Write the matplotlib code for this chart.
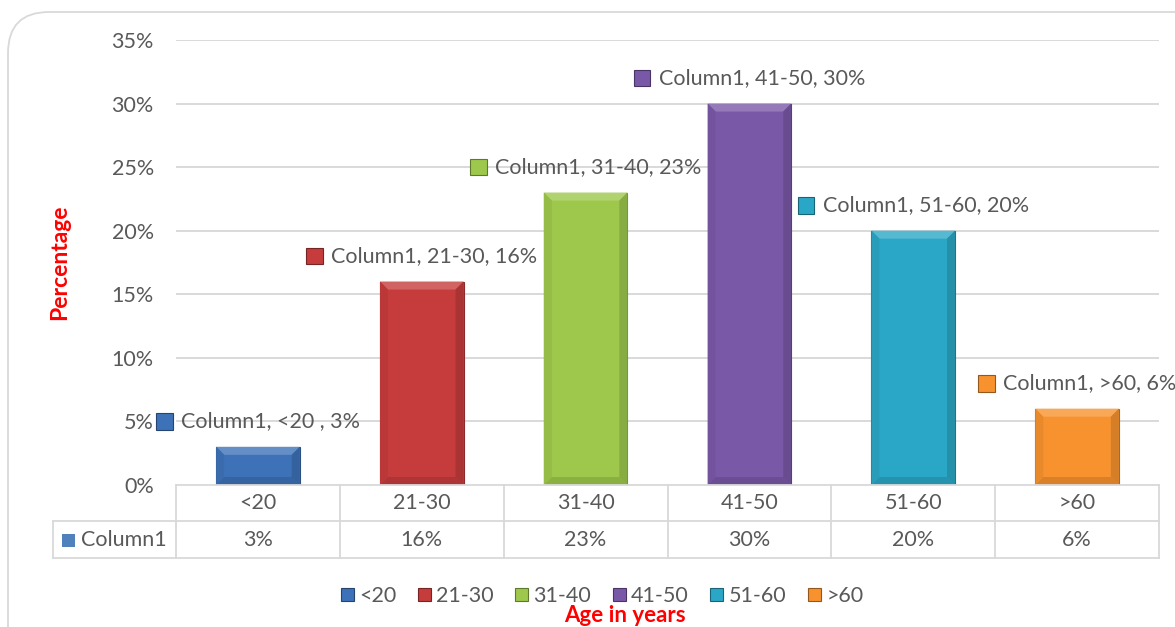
import matplotlib.pyplot as plt
import matplotlib.colors as mcolors
from matplotlib.patches import Rectangle, Polygon, FancyBboxPatch, Patch
from matplotlib.lines import Line2D
from matplotlib.offsetbox import AnnotationBbox, HPacker, TextArea, DrawingArea
from matplotlib.transforms import blended_transform_factory

plt.rcParams['font.family'] = ['Lato', 'DejaVu Sans']

# age groups and share of respondents (%)
age_groups = ['<20', '21-30', '31-40', '41-50', '51-60', '>60']
percent = [3, 16, 23, 30, 20, 6]
series_name = 'Column1'
label_text = ['Column1, <20 , 3%', 'Column1, 21-30, 16%', 'Column1, 31-40, 23%',
              'Column1, 41-50, 30%', 'Column1, 51-60, 20%', 'Column1, >60, 6%']
bar_colors = ['#3d72b8', '#c63c3c', '#9dc84b', '#7a58a8', '#2aa7c6', '#f7922e']

W, H = 1175, 627
grey = '#595959'
line_grey = '#d9d9d9'
fs = 15.5

fig = plt.figure(figsize=(W / 100, H / 100), dpi=100)

# rounded chart frame
frame = FancyBboxPatch((8 / W, -0.2), 1.2, 1.2 - 12 / H,
                       boxstyle='round,pad=0,rounding_size=0.035',
                       transform=fig.transFigure, fc='white', ec='#d9d9d9', lw=1.3,
                       mutation_aspect=W / H, zorder=-10)
fig.patches.append(frame)

x0, x1 = 176, 1159
y_top, y_zero = 40, 485
ax = fig.add_axes([x0 / W, 1 - y_zero / H, (x1 - x0) / W, (y_zero - y_top) / H])
ax.set_xlim(-0.5, len(age_groups) - 0.5)
ax.set_ylim(0, 35)
ax.patch.set_alpha(0)
for s in ax.spines.values():
    s.set_visible(False)
ax.set_yticks(range(0, 36, 5))
ax.set_yticklabels([f'{t}%' for t in range(0, 36, 5)])
ax.tick_params(axis='y', length=0, pad=16, labelsize=fs, labelcolor=grey)
ax.set_xticks([])
for t in range(5, 36, 5):
    ax.axhline(t, color=line_grey, lw=1.4, zorder=0)


def shade(c, f):
    r, g, b = mcolors.to_rgb(c)
    if f >= 0:
        return (r + (1 - r) * f, g + (1 - g) * f, b + (1 - b) * f)
    return (r * (1 + f), g * (1 + f), b * (1 + f))


bar_w = 0.51
px_x = (x1 - x0) / len(age_groups)      # pixels per category
px_y = (y_zero - y_top) / 35             # pixels per percent
bx, by = 8 / px_x, 8 / px_y
for i, (v, c) in enumerate(zip(percent, bar_colors)):
    l, r = i - bar_w / 2, i + bar_w / 2
    ax.add_patch(Rectangle((l, 0), bar_w, v, fc=c, ec=shade(c, -0.3), lw=0.8, zorder=2))
    t = min(by, v / 2)
    # soft bevel facets
    ax.add_patch(Polygon([(l, v), (r, v), (r - bx, v - t), (l + bx, v - t)],
                         closed=True, fc=shade(c, 0.2), ec='none', zorder=3))
    ax.add_patch(Polygon([(l, 0), (r, 0), (r - bx, t), (l + bx, t)],
                         closed=True, fc=shade(c, -0.12), ec='none', zorder=3))
    ax.add_patch(Polygon([(l, 0), (l, v), (l + bx, v - t), (l + bx, t)],
                         closed=True, fc=shade(c, -0.06), ec='none', zorder=3))
    ax.add_patch(Polygon([(r, 0), (r, v), (r - bx, v - t), (r - bx, t)],
                         closed=True, fc=shade(c, -0.14), ec='none', zorder=3))

    # data label with legend key
    da = DrawingArea(12, 12, 0, 0)
    da.add_artist(Rectangle((0, 0), 12, 12, fc=c, ec=shade(c, -0.4), lw=0.8))
    ta = TextArea(label_text[i], textprops=dict(color=grey, fontsize=fs))
    box = HPacker(children=[da, ta], align='center', pad=0, sep=6)
    ab = AnnotationBbox(box, (i, v + 2), frameon=False, box_alignment=(0.5, 0.5),
                        annotation_clip=False, zorder=5)
    ax.add_artist(ab)

# data table under the axis
tr = blended_transform_factory(ax.transData, fig.transFigure)
ftr = fig.transFigure
r0, r1, r2 = 485, 521, 558
fy = lambda p: 1 - p / H
tbl_kw = dict(color=line_grey, lw=1.3, zorder=1)
fig.add_artist(Line2D([x0 / W, x1 / W], [fy(r0), fy(r0)], transform=ftr, **tbl_kw))
fig.add_artist(Line2D([53 / W, x1 / W], [fy(r1), fy(r1)], transform=ftr, **tbl_kw))
fig.add_artist(Line2D([53 / W, x1 / W], [fy(r2), fy(r2)], transform=ftr, **tbl_kw))
fig.add_artist(Line2D([53 / W, 53 / W], [fy(r1), fy(r2)], transform=ftr, **tbl_kw))
for k in range(len(age_groups) + 1):
    xp = x0 + k * px_x
    fig.add_artist(Line2D([xp / W, xp / W], [fy(r0), fy(r2)], transform=ftr, **tbl_kw))
for i, (g, v) in enumerate(zip(age_groups, percent)):
    fig.text(i, fy((r0 + r1) / 2), g, transform=tr, ha='center', va='center',
             color=grey, fontsize=fs)
    fig.text(i, fy((r1 + r2) / 2), f'{v}%', transform=tr, ha='center', va='center',
             color=grey, fontsize=fs)
fig.patches.append(Rectangle((62 / W, fy(547)), 13 / W, 13 / H, transform=ftr,
                             fc='#4f81bd', ec='none'))
fig.text(81 / W, fy((r1 + r2) / 2), series_name, ha='left', va='center',
         color=grey, fontsize=fs)

# axis titles
fig.text(60 / W, fy(262), 'Percentage', rotation=90, ha='center', va='center',
         color='red', fontweight='bold', fontsize=16.5)
fig.text(625 / W, fy(616), 'Age in years', ha='center', va='center',
         color='red', fontweight='bold', fontsize=16)

handles = [Patch(fc=c, ec=shade(c, -0.4), lw=0.8) for c in bar_colors]
fig.legend(handles, age_groups, loc='center', bbox_to_anchor=(602 / W, fy(596)),
           ncol=6, frameon=False, handlelength=0.6, handleheight=0.6,
           handletextpad=0.25, columnspacing=1.0, fontsize=fs, labelcolor=grey,
           borderpad=0)

fig.savefig('out.png', dpi=100)
